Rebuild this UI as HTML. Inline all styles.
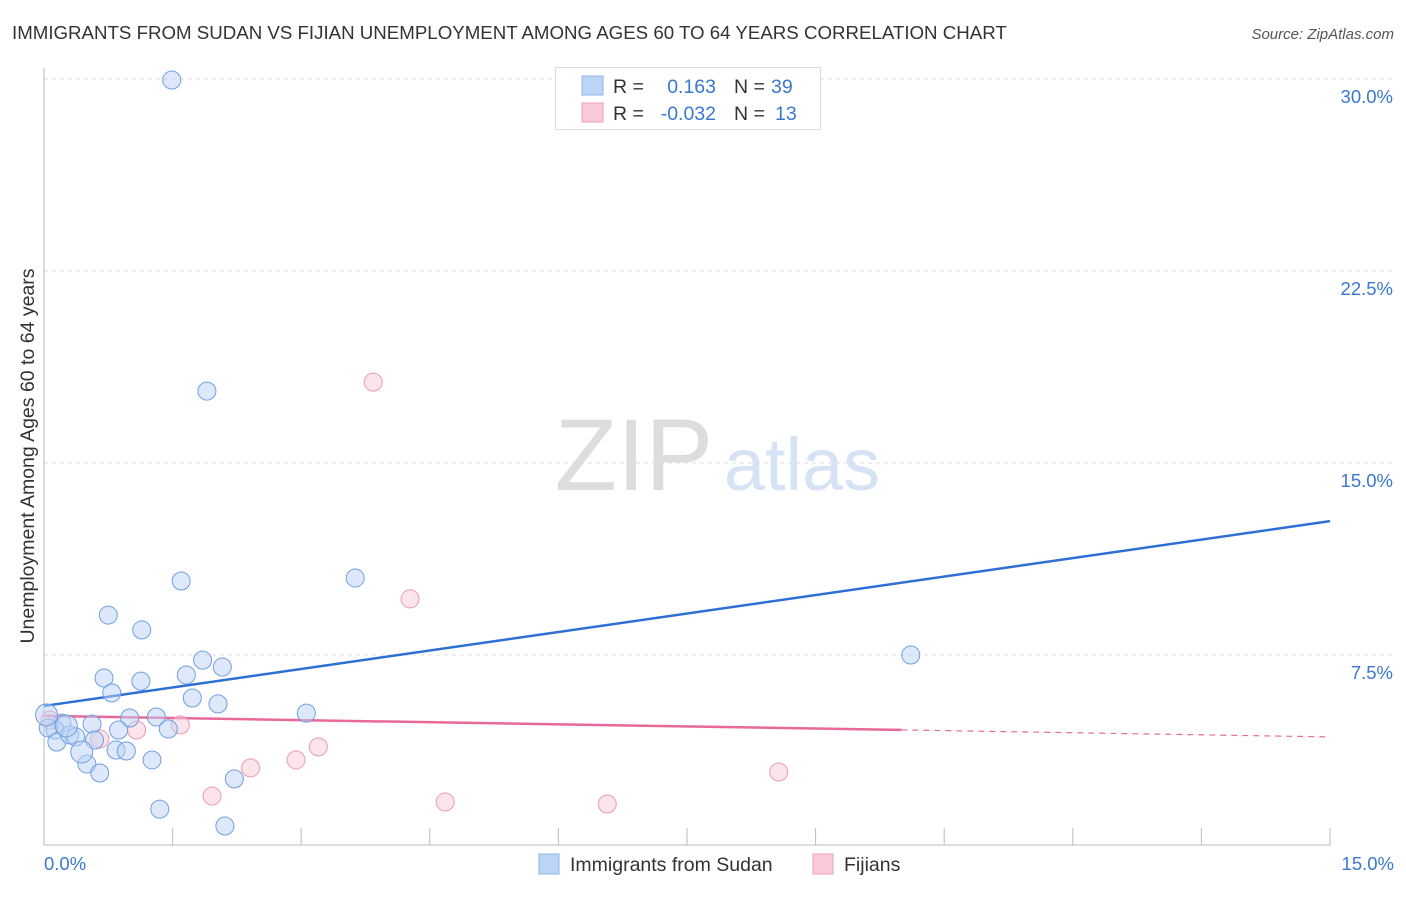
<!DOCTYPE html>
<html><head><meta charset="utf-8"><style>
body{margin:0;background:#fff;font-family:"Liberation Sans",sans-serif;}
svg text{font-family:"Liberation Sans",sans-serif;}
</style></head><body>
<svg id="chart" width="1406" height="892" xmlns="http://www.w3.org/2000/svg">
<text x="12" y="39" font-size="18.7" fill="#333">IMMIGRANTS FROM SUDAN VS FIJIAN UNEMPLOYMENT AMONG AGES 60 TO 64 YEARS CORRELATION CHART</text>
<text x="1394" y="39" font-size="15" fill="#555" font-style="italic" text-anchor="end">Source: ZipAtlas.com</text>
<text x="34" y="456" font-size="19.5" fill="#333" text-anchor="middle" transform="rotate(-90 34 456)">Unemployment Among Ages 60 to 64 years</text>
<g><text x="634" y="490" font-size="102" fill="#ddd" font-family="Liberation Serif" text-anchor="middle">ZIP</text><text x="802" y="490" font-size="74" fill="#d5e3f5" text-anchor="middle">atlas</text></g>
<g id="grid"></g><g id="axes"></g><g id="lines"></g><g id="pts"></g>
<g>
<rect x="555.5" y="67.5" width="265" height="62" fill="#fff" stroke="#ddd"/>
<rect x="582" y="76" width="21" height="19" fill="#bcd4f6" stroke="#8db3ea"/>
<rect x="582" y="103" width="21" height="19" fill="#f9c9d8" stroke="#efa0b9"/>
<text x="613" y="93" font-size="19.5" fill="#333">R =</text><text x="716" y="93" font-size="19.5" fill="#3a78d0" text-anchor="end">0.163</text>
<text x="734" y="93" font-size="19.5" fill="#333">N =</text><text x="771" y="93" font-size="19.5" fill="#3a78d0">39</text>
<text x="613" y="120" font-size="19.5" fill="#333">R =</text><text x="716" y="120" font-size="19.5" fill="#3a78d0" text-anchor="end">-0.032</text>
<text x="734" y="120" font-size="19.5" fill="#333">N =</text><text x="775" y="120" font-size="19.5" fill="#3a78d0">13</text>
</g>
<g>
<rect x="539" y="854" width="20" height="20" fill="#bcd4f6" stroke="#8db3ea"/>
<text x="570" y="871" font-size="19.5" fill="#333">Immigrants from Sudan</text>
<rect x="813" y="854" width="20" height="20" fill="#f9c9d8" stroke="#efa0b9"/>
<text x="844" y="871" font-size="19.5" fill="#333">Fijians</text>
</g>
</svg>
<script>
const yTicks=[7.5,15,22.5,30];
const yTickLabels=["7.5%","15.0%","22.5%","30.0%"];
const xTickLabels=["0.0%","15.0%"];
const sudanX=[1.49,1.90,1.60,3.63,0.75,1.14,0.70,0.79,1.13,1.66,1.85,2.08,1.73,2.03,3.06,10.11,1.00,1.31,1.45,0.87,0.56,0.21,0.13,0.05,0.15,0.30,0.37,0.59,0.84,0.96,1.26,0.50,0.65,2.22,1.35,2.11,0.44,0.03,0.26];
const sudanY=[29.96,17.81,10.39,10.51,9.06,8.48,6.60,6.02,6.48,6.72,7.30,7.03,5.82,5.59,5.23,7.50,5.04,5.08,4.61,4.57,4.80,4.84,4.57,4.65,4.10,4.38,4.30,4.18,3.79,3.75,3.40,3.24,2.89,2.66,1.48,0.82,3.71,5.16,4.73];
const fijiX=[3.84,4.27,1.59,1.08,0.65,2.41,2.94,3.20,1.96,4.68,6.57,8.57,0.07];
const fijiY=[18.16,9.69,4.77,4.57,4.22,3.09,3.40,3.91,1.99,1.76,1.68,2.93,4.96];
const sudanTrend=[5.51,12.73];
const fijiTrend=[5.12,4.30];
const fijiSolidEnd=10.0;
const NS="http://www.w3.org/2000/svg";
const X=v=>44+v/15*1286, Y=v=>847-v/30*768;
function mk(t,a,p){const e=document.createElementNS(NS,t);for(const k in a)e.setAttribute(k,a[k]);document.getElementById(p).appendChild(e);return e;}
yTicks.forEach((t,i)=>{
 const g=mk('line',{x1:44,x2:1394,y1:Y(t),y2:Y(t),stroke:'#ddd','stroke-dasharray':'4,4'},'grid');
 
 
 const l=mk('text',{x:1393,y:Y(t)+24,'font-size':18.5,fill:'#3a78d0','text-anchor':'end'},'grid');l.textContent=yTickLabels[i];
 
 
});
mk('line',{x1:44,x2:44,y1:68,y2:845,stroke:'#bbb'},'axes');
mk('line',{x1:44,x2:1330,y1:845,y2:845,stroke:'#bbb'},'axes');
for(let i=0;i<=10;i++){const t=mk('line',{x1:X(i*1.5),x2:X(i*1.5),y1:828,y2:845,stroke:'#bbb'},'axes');
 
 }
let a=mk('text',{x:44,y:870,'font-size':18.5,fill:'#3a78d0'},'axes');a.textContent=xTickLabels[0];


a=mk('text',{x:1394,y:870,'font-size':18.5,fill:'#3a78d0','text-anchor':'end'},'axes');a.textContent=xTickLabels[1];


function dot(x,y,f,s,n,r){const c=mk('circle',{cx:X(x),cy:Y(y),r:r,fill:f,'fill-opacity':0.5,stroke:s,'stroke-width':1},'pts');
 
 }
fijiX.forEach((x,i)=>dot(x,fijiY[i],'#f9c9d8','#eb9ab5','fijian-point',9));
sudanX.forEach((x,i)=>dot(x,sudanY[i],'#bcd4f6','#6f9fe0','sudan-point',i>=36?11:9));
let ln=mk('line',{x1:X(0),y1:Y(sudanTrend[0]),x2:X(15),y2:Y(sudanTrend[1]),stroke:'#2e6fd6','stroke-width':2.5},'lines');


const fm=fijiTrend[0]+(fijiTrend[1]-fijiTrend[0])*fijiSolidEnd/15;
ln=mk('line',{x1:X(0),y1:Y(fijiTrend[0]),x2:X(fijiSolidEnd),y2:Y(fm),stroke:'#e8699a','stroke-width':2.5},'lines');


ln=mk('line',{x1:X(fijiSolidEnd),y1:Y(fm),x2:X(15),y2:Y(fijiTrend[1]),stroke:'#e8699a','stroke-width':1.2,'stroke-dasharray':'6,5'},'lines');


</script>
</body></html>
